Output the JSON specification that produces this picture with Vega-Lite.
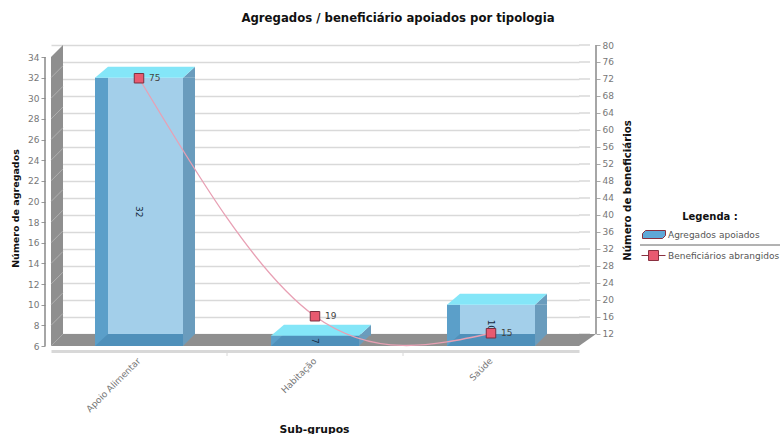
{
"$schema":"https://vega.github.io/schema/vega-lite/v6.json",
"width":528,"height":301,"autosize":"none",
"padding":{"left":51,"top":45,"right":201,"bottom":88},
"background":"white",
"config":{"view":{"stroke":null},"font":"DejaVu Sans"},
"title":{"text":"Agregados / beneficiário apoiados por tipologia","font":"DejaVu Sans","fontWeight":"bold","fontSize":11.7,"color":"#111111","dx":83,"offset":16},
"datasets":{"linhas":[
{"sub":"Apoio Alimentar","agregados":32,"beneficiarios":75},
{"sub":"Habitação","agregados":7,"beneficiarios":19},
{"sub":"Saúde","agregados":10,"beneficiarios":15}]},
"data":{"name":"linhas"},
"transform":[{"calculate":"6","as":"base"}],
"resolve":{"scale":{"y":"independent"},"axis":{"y":"independent"}},
"encoding":{"x":{"field":"sub","type":"nominal","scale":{"paddingInner":0.5,"paddingOuter":0.25},
 "axis":{"title":"Sub-grupos","titleFont":"DejaVu Sans","titleFontWeight":"bold","titleFontSize":10.8,"titleColor":"#111111","titleX":263,"titleY":78,"titleBaseline":"middle","titleAnchor":"middle","labelAngle":-45,"labelAlign":"right","labelBaseline":"middle","labelFontSize":9,"labelColor":"#777777","labelPadding":8,"offset":5,"domainColor":"#d8d8d8","domainWidth":3,"ticks":false,"grid":false}}},
"layer":[
 {"mark":{"type":"line","opacity":0,"interpolate":"natural"},"encoding":{"y":{"field":"beneficiarios","type":"quantitative","scale":{"domain":[9.176,80],"nice":false,"zero":false},"title":"Número de beneficiários","axis":{"orient":"right","offset":17,"values":[12,16,20,24,28,32,36,40,44,48,52,56,60,64,68,72,76,80],"domain":false,"grid":true,"gridColor":"#d9d9d9","gridWidth":1.3,"tickSize":4,"tickColor":"#aaaaaa","labelColor":"#777777","labelFontSize":9,"titleFont":"DejaVu Sans","titleFontWeight":"bold","titleFontSize":10.2,"titleColor":"#111111","titleAngle":-90,"titleX":36,"titleY":145}}}},
 {"transform":[{"filter":"datum.sub === 'Apoio Alimentar'"}],"mark":{"type":"point","filled":false,"opacity":1,"size":4,"stroke":"#888888","strokeWidth":1.5,"shape":"M-94,0L-94,-289"},"encoding":{"y":{"field":"base","type":"quantitative","scale":{"domain":[6,35.163],"nice":false,"zero":false,"clamp":true},"title":"Número de agregados","axis":{"orient":"left","values":[6,8,10,12,14,16,18,20,22,24,26,28,30,32,34],"offset":6,"domain":false,"grid":false,"tickSize":4,"tickColor":"#999999","labelColor":"#777777","labelFontSize":9,"titleFont":"DejaVu Sans","titleFontWeight":"bold","titleFontSize":9.5,"titleColor":"#111111","titleX":-25,"titleY":163}}}},
 {"transform":[{"filter":"datum.sub === 'Saúde'"}],"mark":{"type":"point","filled":false,"opacity":1,"size":4,"stroke":"#d9d9d9","strokeWidth":1.3,"shape":"M88,-12L99,-12M88,-29L99,-29M88,-46L99,-46M88,-63L99,-63M88,-80L99,-80M88,-97L99,-97M88,-114L99,-114M88,-131L99,-131M88,-148L99,-148M88,-165L99,-165M88,-182L99,-182M88,-199L99,-199M88,-216L99,-216M88,-233L99,-233M88,-250L99,-250M88,-267L99,-267M88,-284L99,-284M88,-301L99,-301"},"encoding":{"y":{"field":"base","type":"quantitative","scale":{"domain":[6,35.163],"nice":false,"zero":false,"clamp":true},"axis":null}}},
 {"transform":[{"filter":"datum.sub === 'Habitação'"}],"mark":{"type":"point","filled":false,"opacity":1,"size":4,"stroke":"#d8d8d8","strokeWidth":1,"shape":"M-88,5L-88,10M88,5L88,10"},"encoding":{"y":{"field":"base","type":"quantitative","scale":{"domain":[6,35.163],"nice":false,"zero":false,"clamp":true},"axis":null}}},
 {"transform":[{"filter":"datum.sub === 'Apoio Alimentar'"}],"mark":{"type":"point","filled":true,"opacity":1,"size":4,"fill":"#8f8f8f","shape":"M-88,0L-76,-12L-76,-301L-88,-289Z"},"encoding":{"y":{"field":"base","type":"quantitative","scale":{"domain":[6,35.163],"nice":false,"zero":false,"clamp":true},"axis":null}}},
 {"transform":[{"filter":"datum.sub === 'Apoio Alimentar'"}],"mark":{"type":"point","filled":false,"opacity":1,"size":4,"stroke":"#bdbdbd","strokeWidth":0.7,"shape":"M-88,0L-76,-12M-88,-20.64L-76,-32.64M-88,-41.28L-76,-53.28M-88,-61.92L-76,-73.92M-88,-82.56L-76,-94.56M-88,-103.2L-76,-115.2M-88,-123.84L-76,-135.84M-88,-144.48L-76,-156.48M-88,-165.12L-76,-177.12M-88,-185.76L-76,-197.76M-88,-206.4L-76,-218.4M-88,-227.04L-76,-239.04M-88,-247.68L-76,-259.68M-88,-268.32L-76,-280.32"},"encoding":{"y":{"field":"base","type":"quantitative","scale":{"domain":[6,35.163],"nice":false,"zero":false,"clamp":true},"axis":null}}},
 {"transform":[{"filter":"datum.sub === 'Habitação'"}],"mark":{"type":"point","filled":true,"opacity":1,"size":4,"fill":"#8f8f8f","shape":"M-264,0L264,0L281,-12L-252,-12Z"},"encoding":{"y":{"field":"base","type":"quantitative","scale":{"domain":[6,35.163],"nice":false,"zero":false,"clamp":true},"axis":null}}},
 {"transform":[{"filter":"datum.sub === 'Saúde'"}],"mark":{"type":"point","filled":false,"opacity":1,"size":4,"stroke":"#888888","strokeWidth":1.5,"shape":"M105,-12L105,-301"},"encoding":{"y":{"field":"base","type":"quantitative","scale":{"domain":[6,35.163],"nice":false,"zero":false,"clamp":true},"axis":null}}},
 {"transform":[{"filter":"datum.sub === 'Saúde'"}],"mark":{"type":"point","filled":false,"opacity":1,"size":4,"stroke":"#666666","strokeWidth":1,"shape":"M149,-101L289,-101"},"encoding":{"y":{"field":"base","type":"quantitative","scale":{"domain":[6,35.163],"nice":false,"zero":false,"clamp":true},"axis":null}}},
 {"mark":{"type":"bar","fill":"#6a9cbd","width":12,"xOffset":50},"encoding":{"y":{"field":"agregados","type":"quantitative","scale":{"domain":[6,35.163],"nice":false,"zero":false,"clamp":true},"axis":null}}},
 {"mark":{"type":"point","filled":true,"opacity":1,"size":4,"fill":"#8f8f8f","shape":"M44,0L56,0L56,-12Z"},"encoding":{"y":{"field":"base","type":"quantitative","scale":{"domain":[6,35.163],"nice":false,"zero":false,"clamp":true},"axis":null}}},
 {"mark":{"type":"bar","fill":"#a3cfea"},"encoding":{"y":{"field":"agregados","type":"quantitative","scale":{"domain":[6,35.163],"nice":false,"zero":false,"clamp":true},"axis":null}}},
 {"mark":{"type":"bar","fill":"#5b9fc9","width":13,"xOffset":-37.5},"encoding":{"y":{"field":"agregados","type":"quantitative","scale":{"domain":[6,35.163],"nice":false,"zero":false,"clamp":true},"axis":null}}},
 {"mark":{"type":"point","filled":true,"opacity":1,"size":4,"fill":"#4f90ba","shape":"M-44,0L44,0L44,-12L-31,-12Z"},"encoding":{"y":{"field":"base","type":"quantitative","scale":{"domain":[6,35.163],"nice":false,"zero":false,"clamp":true},"axis":null}}},
 {"mark":{"type":"point","filled":true,"opacity":1,"size":4,"fill":"#6a9cbd","shape":"M44,0L56,-11L56,0Z"},"encoding":{"y":{"field":"agregados","type":"quantitative","scale":{"domain":[6,35.163],"nice":false,"zero":false,"clamp":true},"axis":null}}},
 {"mark":{"type":"point","filled":true,"opacity":1,"size":4,"fill":"#84e6f8","shape":"M-44,0L44,0L56,-11L-31,-11Z"},"encoding":{"y":{"field":"agregados","type":"quantitative","scale":{"domain":[6,35.163],"nice":false,"zero":false,"clamp":true},"axis":null}}},
 {"transform":[{"calculate":"(datum.agregados + 6) / 2","as":"meio"}],"mark":{"type":"text","angle":90,"fontSize":9,"color":"#14283c","align":"center","baseline":"middle"},"encoding":{"y":{"field":"meio","type":"quantitative","scale":{"domain":[6,35.163],"nice":false,"zero":false,"clamp":true},"axis":null},"text":{"field":"agregados","type":"quantitative"}}},
 {"data":{"values":[{"sub":"Saúde","serie":"Agregados apoiados"},{"sub":"Saúde","serie":"Beneficiários abrangidos"}]},"transform":[{"calculate":"6","as":"base"}],"mark":{"type":"point","filled":true,"size":0,"opacity":1},
  "encoding":{"y":{"field":"base","type":"quantitative","scale":{"domain":[6,35.163],"nice":false,"zero":false,"clamp":true},"axis":null},
  "color":{"field":"serie","type":"nominal","scale":{"domain":["Agregados apoiados","Beneficiários abrangidos"],"range":["#5fa8d8","#e85a70"]},"legend":{"title":"Legenda :","orient":"none","legendX":589,"legendY":167,"titleFont":"DejaVu Sans","titleFontWeight":"bold","titleFontSize":10,"titleColor":"#111111","titleAnchor":"middle","titlePadding":8,"labelFontSize":9,"labelColor":"#555555","symbolSize":4,"symbolOffset":9,"labelOffset":10,"rowPadding":7,"symbolStrokeWidth":1,"symbolStrokeColor":"#8a3040"}},
  "shape":{"field":"serie","type":"nominal","scale":{"domain":["Agregados apoiados","Beneficiários abrangidos"],"range":["M-11,4L9,4L12,1L12,-4L-8,-4L-11,-1Z","M-12,0L-5,0M5,0L12,0M-5,-5L5,-5L5,5L-5,5Z"]}}}},
 {"mark":{"type":"line","interpolate":"natural","color":"#e8a0b4","strokeWidth":1.3,"yOffset":12},"encoding":{"y":{"field":"beneficiarios","type":"quantitative","scale":{"domain":[9.176,80],"nice":false,"zero":false},"axis":null}}},
 {"mark":{"type":"point","shape":"square","size":90,"filled":true,"opacity":1,"fill":"#e85a70","stroke":"#7a3040","strokeWidth":1,"yOffset":12},"encoding":{"y":{"field":"beneficiarios","type":"quantitative","scale":{"domain":[9.176,80],"nice":false,"zero":false},"axis":null}}},
 {"mark":{"type":"text","align":"left","baseline":"middle","dx":10,"yOffset":12,"fontSize":9,"color":"#444444"},"encoding":{"y":{"field":"beneficiarios","type":"quantitative","scale":{"domain":[9.176,80],"nice":false,"zero":false},"axis":null},"text":{"field":"beneficiarios","type":"quantitative"}}}
]}
